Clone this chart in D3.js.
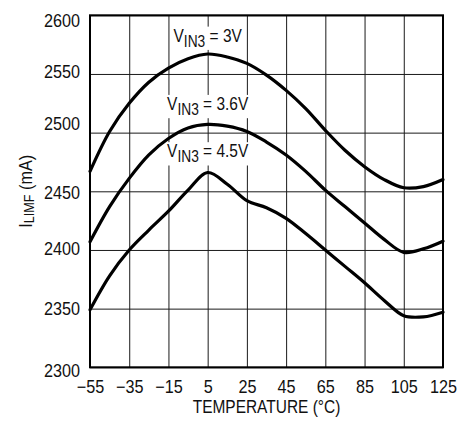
<!DOCTYPE html>
<html>
<head>
<meta charset="utf-8">
<script src="https://cdn.jsdelivr.net/npm/d3@7"></script>
<style>
  html, body { margin: 0; padding: 0; background: #fff; }
  svg { display: block; }
  text { font-family: "Liberation Sans", Arial, Helvetica, sans-serif; fill: #111; }
</style>
</head>
<body>
<svg id="chart" width="476" height="421"></svg>
<script>
// ---- data ----
const temps  = [-55, -45, -35, -25, -15, -5, 5, 15, 25, 35, 45, 55, 65, 75, 85, 95, 105, 115, 125];
const vin3V  = [2467, 2501, 2525, 2543, 2555, 2563, 2567, 2564.5, 2559, 2549, 2536, 2520.5, 2502, 2485, 2471, 2460, 2453, 2454, 2460];
const vin36V = [2407, 2437, 2461, 2481, 2495, 2504, 2507, 2505.5, 2501, 2492, 2481, 2467, 2451, 2437, 2423, 2409, 2398, 2401, 2407.5];
const vin45V = [2349, 2378, 2400, 2417, 2433, 2451, 2466, 2456, 2442, 2436, 2427, 2414, 2400, 2386, 2372, 2357, 2344, 2343, 2347];
const seriesNames = ["3V", "3.6V", "4.5V"];
const labelTemps  = [5, 5, 5];
const labelValues = [2577.5, 2519.3, 2479];
const xTicks = [-55, -35, -15, 5, 25, 45, 65, 85, 105, 125];
const yTicks = [2300, 2350, 2400, 2450, 2500, 2550, 2600];
const xTitle = "TEMPERATURE (°C)";

// ---- layout ----
const W = 476, H = 421;
const m = { left: 90, right: 33, top: 15.3, bottom: 53.7 };
const NARROW_NUM = 0.9, NARROW_TXT = 0.86;
const svg = d3.select("#chart");
const x = d3.scaleLinear().domain([-55, 125]).range([m.left, W - m.right]);
const y = d3.scaleLinear().domain([2300, 2600]).range([H - m.bottom, m.top]);
const fmt = d => d < 0 ? "\u2212" + Math.abs(d) : String(d);

// grid via axes
const gx = svg.append("g")
  .attr("transform", `translate(0,${H - m.bottom})`)
  .call(d3.axisBottom(x).tickValues(xTicks).tickFormat(fmt)
        .tickSize(-(H - m.top - m.bottom)).tickPadding(12.5));
const gy = svg.append("g")
  .attr("transform", `translate(${m.left},0)`)
  .call(d3.axisLeft(y).tickValues(yTicks).tickFormat(fmt)
        .tickSize(-(W - m.left - m.right)).tickPadding(10));
[gx, gy].forEach(g => {
  g.select(".domain").remove();
  g.selectAll(".tick line").attr("stroke", "#1a1a1a").attr("stroke-width", 1);
  g.selectAll(".tick text").attr("font-size", 18).attr("fill", "#111")
    .attr("transform", `scale(${NARROW_NUM},1)`);
});
gy.selectAll(".tick text").attr("x", -10 / NARROW_NUM);
// small label nudges as in the reference
const yNudge = { 2600: 5, 2550: -2, 2500: -9, 2450: 1, 2400: -1, 2350: 0, 2300: 3 };
gy.selectAll(".tick text").attr("y", d => yNudge[d] || 0);

// series labels with white backing
seriesNames.forEach((nm, i) => {
  const g = svg.append("g")
    .attr("transform", `translate(${x(labelTemps[i])},${y(labelValues[i])}) scale(${NARROW_TXT},1)`);
  const t = g.append("text").attr("text-anchor", "middle").attr("font-size", 18);
  t.append("tspan").text("V");
  t.append("tspan").attr("font-size", 16).attr("dy", 5).text("IN3");
  t.append("tspan").attr("dy", -5).text(" = " + nm);
  const bb = t.node().getBBox();
  g.insert("rect", "text")
    .attr("x", bb.x - 1).attr("y", bb.y + 1)
    .attr("width", bb.width + 2).attr("height", bb.height - 1)
    .attr("fill", "#fff");
});

// curves
const line = d3.line().x((d, i) => x(temps[i])).y(d => y(d)).curve(d3.curveCatmullRom.alpha(0.5));
[vin3V, vin36V, vin45V].forEach(s => {
  svg.append("path").datum(s).attr("d", line)
    .attr("fill", "none").attr("stroke", "#000").attr("stroke-width", 3.2)
    .attr("stroke-linejoin", "round").attr("stroke-linecap", "round");
});

// frame
svg.append("rect")
  .attr("x", m.left).attr("y", m.top)
  .attr("width", W - m.left - m.right).attr("height", H - m.top - m.bottom)
  .attr("fill", "none").attr("stroke", "#000").attr("stroke-width", 2);

// axis titles
svg.append("text")
  .attr("transform", `translate(${(m.left + W - m.right) / 2},413) scale(${NARROW_TXT},1)`)
  .attr("text-anchor", "middle").attr("font-size", 18)
  .text(xTitle);
const yt = svg.append("text")
  .attr("transform", `translate(32.3,${(m.top + H - m.bottom) / 2}) rotate(-90) scale(${NARROW_NUM},1)`)
  .attr("text-anchor", "middle").attr("font-size", 18);
yt.append("tspan").text("I");
yt.append("tspan").attr("font-size", 14).attr("dy", 2).text("LIMF");
yt.append("tspan").attr("dy", -2).text(" (mA)");
</script>
</body>
</html>
